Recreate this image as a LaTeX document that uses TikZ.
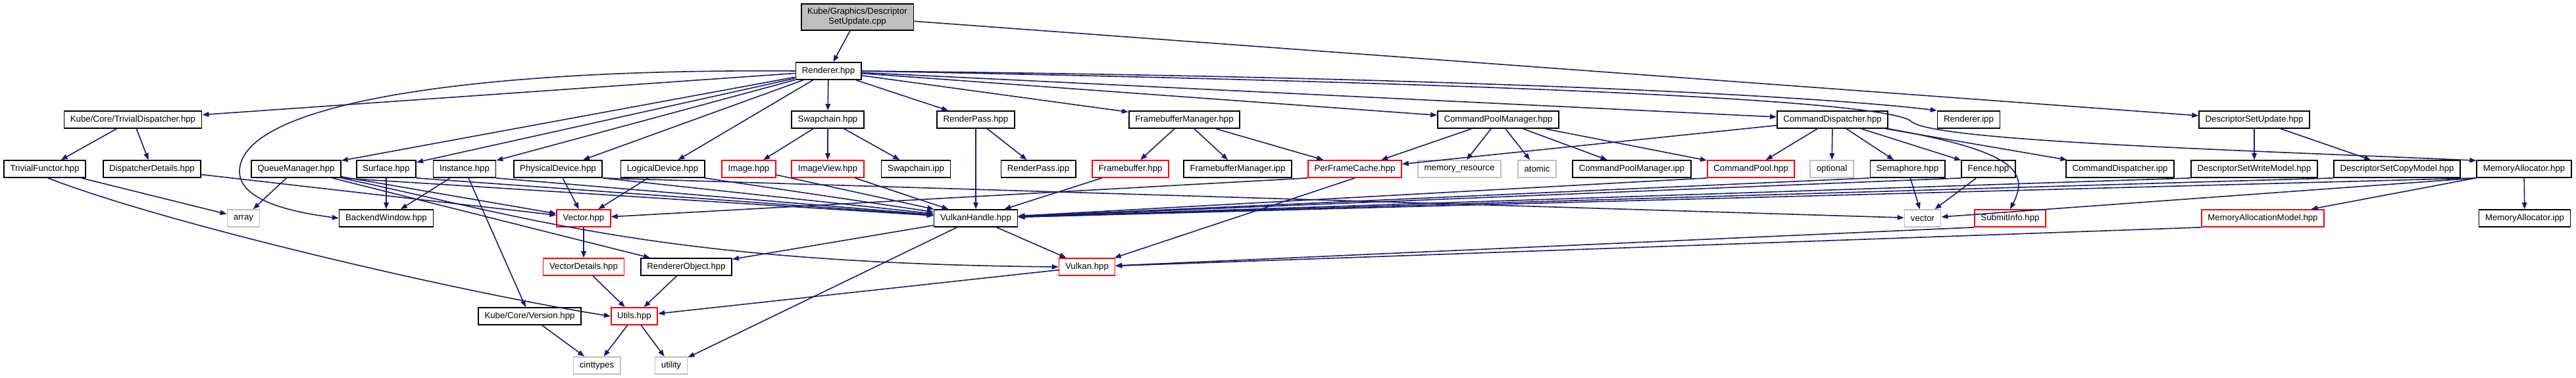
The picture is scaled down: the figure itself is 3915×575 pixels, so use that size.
\documentclass[tikz,border=0pt]{standalone}
\usepackage{fontspec}
\setmainfont{Liberation Sans}
\usetikzlibrary{arrows.meta}

\definecolor{edgeblue}{HTML}{191970}
\definecolor{sysgray}{HTML}{BFBFBF}

\tikzset{
  file/.style={draw=black, line width=1.7pt, fill=white, minimum height=26pt,
    inner xsep=9.5pt, inner ysep=0pt, font=\fontsize{13.25}{15}\selectfont},
  trunc/.style={file, draw=red},
  sysfile/.style={file, draw=sysgray},
  edge/.style={draw=edgeblue, line width=1.6pt, -{Triangle[length=10pt,width=7.5pt]}},
}

\begin{document}
\begin{tikzpicture}[x=1pt, y=-1pt]
    \useasboundingbox (0,0) rectangle (3915,575);

    % Source file and its direct includes
    \node[file, fill=sysgray, align=center, minimum height=40pt] (cpp) at (1303,26)
        {Kube/Graphics/Descriptor\\SetUpdate.cpp};
    \node[file] (ren) at (1259,108) {Renderer.hpp};

    % Level 2
    \node[file] (tdisp) at (202,182) {Kube/Core/TrivialDispatcher.hpp};
    \node[file] (swap) at (1258,182) {Swapchain.hpp};
    \node[file] (rpass) at (1483,182) {RenderPass.hpp};
    \node[file] (fbman) at (1800,182) {FramebufferManager.hpp};
    \node[file] (cpman) at (2277,182) {CommandPoolManager.hpp};
    \node[file] (cdisp) at (2785,182) {CommandDispatcher.hpp};
    \node[file] (ripp) at (2992,182) {Renderer.ipp};
    \node[file] (dsu) at (3426,182) {DescriptorSetUpdate.hpp};

    % Level 3
    \node[file] (tfun) at (68,257) {TrivialFunctor.hpp};
    \node[file] (ddet) at (231,257) {DispatcherDetails.hpp};
    \node[file] (qman) at (450,257) {QueueManager.hpp};
    \node[file] (surf) at (587,257) {Surface.hpp};
    \node[file] (inst) at (706,257) {Instance.hpp};
    \node[file] (pdev) at (848,257) {PhysicalDevice.hpp};
    \node[file] (ldev) at (1007,257) {LogicalDevice.hpp};
    \node[trunc] (img) at (1138,257) {Image.hpp};
    \node[trunc] (iview) at (1258,257) {ImageView.hpp};
    \node[file] (swipp) at (1392,257) {Swapchain.ipp};
    \node[file] (rpipp) at (1578,257) {RenderPass.ipp};
    \node[trunc] (fb) at (1718,257) {Framebuffer.hpp};
    \node[file] (fbmipp) at (1881,257) {FramebufferManager.ipp};
    \node[trunc] (pfc) at (2059,257) {PerFrameCache.hpp};
    \node[sysfile] (memres) at (2218,257) {memory\_resource};
    \node[sysfile] (atom) at (2336,257) {atomic};
    \node[file] (cpipp) at (2480,257) {CommandPoolManager.ipp};
    \node[trunc] (cpool) at (2661,257) {CommandPool.hpp};
    \node[sysfile] (opt) at (2784,257) {optional};
    \node[file] (sem) at (2899,257) {Semaphore.hpp};
    \node[file] (fence) at (3022,257) {Fence.hpp};
    \node[file] (cdipp) at (3222,257) {CommandDispatcher.ipp};
    \node[file] (dswm) at (3426,257) {DescriptorSetWriteModel.hpp};
    \node[file] (dscm) at (3643,257) {DescriptorSetCopyModel.hpp};
    \node[file] (mema) at (3836,257) {MemoryAllocator.hpp};

    % Level 4
    \node[sysfile] (arr) at (370,332) {array};
    \node[file] (bwin) at (587,332) {BackendWindow.hpp};
    \node[trunc] (vect) at (887,332) {Vector.hpp};
    \node[file] (vh) at (1483,332) {VulkanHandle.hpp};
    \node[sysfile] (stdvec) at (2922,332) {vector};
    \node[trunc] (subinfo) at (3055,332) {SubmitInfo.hpp};
    \node[trunc] (mamodel) at (3439,332) {MemoryAllocationModel.hpp};
    \node[file] (maipp) at (3837,332) {MemoryAllocator.ipp};

    % Levels 5 to 7
    \node[trunc] (vdet) at (887,406) {VectorDetails.hpp};
    \node[file] (robj) at (1043,406) {RendererObject.hpp};
    \node[trunc] (vk) at (1652,406) {Vulkan.hpp};
    \node[file] (ver) at (805,481) {Kube/Core/Version.hpp};
    \node[trunc] (utils) at (964,481) {Utils.hpp};
    \node[sysfile] (cint) at (907,556) {cinttypes};
    \node[sysfile] (util) at (1020,556) {utility};

    % Edges from the source file
    \draw[edge] (cpp) -- (ren);
    \draw[edge] (cpp) -- (dsu);

    % Edges from Renderer.hpp
    \draw[edge] (ren) -- (tdisp);
    \draw[edge] (ren.west) .. controls (700,104) and (362,160) .. (364,262)
        .. controls (366,305) and (440,322) .. (bwin.west);
    \draw[edge] (ren) -- (qman);
    \draw[edge] (ren) -- (surf);
    \draw[edge] (ren) -- (inst);
    \draw[edge] (ren) -- (pdev);
    \draw[edge] (ren) -- (ldev);
    \draw[edge] (ren) -- (swap);
    \draw[edge] (ren) -- (rpass);
    \draw[edge] (ren) -- (fbman);
    \draw[edge] (ren) -- (cpman);
    \draw[edge] (ren) -- (cdisp);
    \draw[edge] (ren.east) .. controls (2300,118) and (2800,150) .. (ripp.north west);
    \draw[edge] (ren.east) .. controls (2200,125) and (2870,150) .. (2905,185)
        .. controls (2940,215) and (3400,228) .. (mema.170);

    % Dispatcher side
    \draw[edge] (tdisp) -- (tfun);
    \draw[edge] (tdisp) -- (ddet);
    \draw[edge] (tfun) -- (arr);
    \draw[edge] (tfun.290) .. controls (250,340) and (700,445) .. (utils.west);
    \draw[edge] (ddet) -- (vect);

    % Device side
    \draw[edge] (qman) -- (arr);
    \draw[edge] (qman) -- (vect);
    \draw[edge] (qman) -- (robj);
    \draw[edge] (qman.south east) -- (vh);
    \draw[edge] (qman.south east) .. controls (800,330) and (1000,400) .. (vk.west);
    \draw[edge] (surf) -- (bwin);
    \draw[edge] (surf.south east) -- (vh);
    \draw[edge] (inst) -- (bwin);
    \draw[edge] (inst) -- (ver);
    \draw[edge] (inst.south east) -- (vh);
    \draw[edge] (pdev) -- (vect);
    \draw[edge] (pdev.south east) -- (vh);
    \draw[edge] (pdev.south east) -- (stdvec);
    \draw[edge] (ldev) -- (vect);
    \draw[edge] (ldev.south east) -- (vh);

    % Swapchain, render pass, framebuffers
    \draw[edge] (swap) -- (img);
    \draw[edge] (swap) -- (iview);
    \draw[edge] (swap) -- (swipp);
    \draw[edge] (img) -- (vh);
    \draw[edge] (iview) -- (vh);
    \draw[edge] (rpass) -- (rpipp);
    \draw[edge] (rpass) -- (vh);
    \draw[edge] (fbman) -- (fb);
    \draw[edge] (fbman) -- (fbmipp);
    \draw[edge] (fbman) -- (pfc);
    \draw[edge] (fb) -- (vh);
    \draw[edge] (pfc.south west) -- (vect);
    \draw[edge] (pfc.south) -- (vk);

    % Command pools and dispatcher
    \draw[edge] (cpman) -- (pfc);
    \draw[edge] (cpman) -- (memres);
    \draw[edge] (cpman) -- (atom);
    \draw[edge] (cpman) -- (cpipp);
    \draw[edge] (cpman) -- (cpool);
    \draw[edge] (cpool.south west) -- (vh);
    \draw[edge] (cdisp) -- (pfc);
    \draw[edge] (cdisp) -- (cpool);
    \draw[edge] (cdisp) -- (opt);
    \draw[edge] (cdisp) -- (sem);
    \draw[edge] (cdisp) -- (fence);
    \draw[edge] (cdisp) -- (cdipp);
    \draw[edge] (cdisp.south east) .. controls (3060,230) and (3085,260) .. (subinfo.north);
    \draw[edge] (sem.south west) -- (vh);
    \draw[edge] (sem) -- (stdvec);
    \draw[edge] (fence.south west) -- (vh);
    \draw[edge] (fence) -- (stdvec);
    \draw[edge] (subinfo.south west) -- (vk);

    % Descriptor sets and memory
    \draw[edge] (dsu) -- (dswm);
    \draw[edge] (dsu) -- (dscm);
    \draw[edge] (dswm.south west) -- (vh);
    \draw[edge] (dscm.south west) -- (vh);
    \draw[edge] (mema.south west) -- (vh);
    \draw[edge] (mema.south west) -- (stdvec);
    \draw[edge] (mema) -- (mamodel);
    \draw[edge] (mema) -- (maipp);
    \draw[edge] (mamodel.south west) -- (vk);

    % Bottom of the graph
    \draw[edge] (vh) -- (robj);
    \draw[edge] (vh) -- (vk);
    \draw[edge] (vh) -- (util);
    \draw[edge] (vect) -- (vdet);
    \draw[edge] (vdet) -- (utils);
    \draw[edge] (robj) -- (utils);
    \draw[edge] (vk) -- (utils);
    \draw[edge] (ver) -- (cint);
    \draw[edge] (utils) -- (cint);
    \draw[edge] (utils) -- (util);

\end{tikzpicture}
\end{document}
